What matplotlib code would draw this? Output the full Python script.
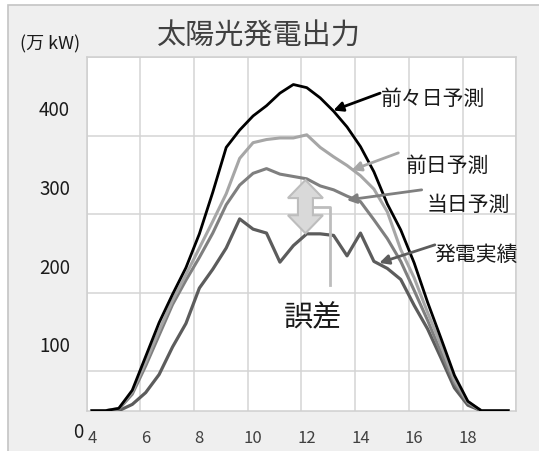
import numpy as np
import matplotlib.pyplot as plt
import matplotlib.transforms as mtransforms
from matplotlib.patches import Rectangle, Polygon

plt.rcParams['font.family'] = ['Noto Sans CJK JP', 'DejaVu Sans']

# 時刻 (30分刻み)
hours = [4.0, 4.5, 5.0, 5.5, 6.0, 6.5, 7.0, 7.5, 8.0, 8.5, 9.0, 9.5, 10.0, 10.5, 11.0, 11.5,
         12.0, 12.5, 13.0, 13.5, 14.0, 14.5, 15.0, 15.5, 16.0, 16.5, 17.0, 17.5, 18.0, 18.5, 19.0, 19.5]
# 万kW
zenzenjitsu = [0, 0, 3, 26, 69, 112, 148, 182, 225, 278, 335, 357, 375, 388, 404, 415,
               411, 398, 381, 361, 336, 304, 263, 230, 188, 138, 92, 45, 12, 0, 0, 0]
zenjitsu = [0, 0, 3, 24, 62, 102, 140, 173, 207, 241, 276, 321, 341, 345, 347, 347,
            351, 335, 323, 312, 299, 282, 253, 205, 169, 125, 83, 39, 11, 0, 0, 0]
toujitsu = [0, 0, 2, 21, 57, 96, 135, 166, 195, 226, 262, 287, 302, 308, 301, 298,
            295, 286, 281, 273, 266, 243, 219, 190, 153, 115, 74, 35, 10, 0, 0, 0]
jisseki = [0, 0, 0, 8, 23, 46, 81, 111, 156, 180, 207, 244, 231, 226, 189, 210,
           225, 225, 223, 197, 226, 190, 181, 167, 134, 104, 67, 29, 7, 0, 0, 0]

xticks = [4, 6, 8, 10, 12, 14, 16, 18]
yticks = [0, 100, 200, 300, 400]

fig = plt.figure(figsize=(5.39, 4.51), dpi=100)
fig.patch.set_facecolor('white')
# 外枠
fig.patches.append(Rectangle((8/539, -0.05), 1.5, 1 - 5/451 + 0.05, transform=fig.transFigure,
                             facecolor='#efefef', edgecolor='#c4c4c4', lw=1.2, zorder=-10))

ax = fig.add_axes([86.6/539, 40.3/451, 429.6/539, 353.7/451])
ax.set_facecolor('white')
ax.set_xlim(3.8, 19.8)
ax.set_ylim(0, 450)

ax.set_xticks(np.arange(3.8, 19.9, 2), minor=True)
ax.set_yticks(np.arange(0, 451, 50), minor=True)
ax.grid(which='minor', color='#d4d4d4', lw=1.1)
ax.grid(which='major', visible=False)
ax.set_axisbelow(True)
for s in ax.spines.values():
    s.set_color('#cfcfcf')
    s.set_linewidth(1.1)

ax.set_xticks(xticks)
ax.set_xticklabels([str(t) for t in xticks])
ax.set_yticks(yticks)
ax.set_yticklabels([str(t) for t in yticks])
ax.tick_params(which='both', length=0)
ax.tick_params(axis='x', labelsize=12, pad=14, labelcolor='#404040')
ax.tick_params(axis='y', labelsize=13.5, pad=12, labelcolor='#1a1a1a')

# 目盛ラベルをずらす
down = mtransforms.ScaledTranslation(0, -12/100, fig.dpi_scale_trans)
for lab in ax.get_yticklabels():
    lab.set_transform(lab.get_transform() + down)
ax.get_yticklabels()[0].set_transform(ax.get_yticklabels()[0].get_transform()
                                      + mtransforms.ScaledTranslation(13/100, -7/100, fig.dpi_scale_trans))

ax.plot(hours, jisseki, color='#5c5c5c', lw=2.3, zorder=3)
ax.plot(hours, toujitsu, color='#7f7f7f', lw=2.2, zorder=4)
ax.plot(hours, zenjitsu, color='#a6a6a6', lw=2.2, zorder=5)
ax.plot(hours, zenzenjitsu, color='#000000', lw=2.0, zorder=6)

def label(txt, xy, xytext, pos, col):
    ax.annotate('', xy=xy, xytext=xytext,
                arrowprops=dict(arrowstyle='-|>', color=col, lw=2, mutation_scale=14,
                                shrinkA=0, shrinkB=0), zorder=7)
    ax.text(pos[0], pos[1], txt, fontsize=15, color='#1a1a1a',
            ha='left', va='center', zorder=8)

label('前々日予測', (12.99, 382), (14.73, 404), (14.75, 397), '#000000')
label('前日予測', (13.67, 306), (15.41, 328), (15.69, 311), '#a6a6a6')
label('当日予測', (13.49, 268), (16.28, 281), (16.47, 262), '#7f7f7f')
label('発電実績', (14.70, 188), (16.77, 211), (16.74, 198), '#5c5c5c')

# 誤差の矢印
xc, top, bot = 11.95, 293.5, 225.7
hw, sw, hh = 0.652, 0.279, 23
pts = [(xc, top), (xc + hw, top - hh), (xc + sw, top - hh), (xc + sw, bot + hh),
       (xc + hw, bot + hh), (xc, bot), (xc - hw, bot + hh), (xc - sw, bot + hh),
       (xc - sw, top - hh), (xc - hw, top - hh)]
ax.add_patch(Polygon(pts, closed=True, facecolor='#d9d9d9', edgecolor='#bdbdbd', lw=1.5, zorder=8))
ax.plot([12.23, 12.88, 12.88], [259.5, 259.5, 160], color='#bdbdbd', lw=2, zorder=8)
ax.text(12.23, 117, '誤差', fontsize=21, color='#1a1a1a', ha='center', va='center', zorder=8)

fig.text(259/539, 1 - 37/451, '太陽光発電出力', fontsize=21, color='#404040', ha='center', va='center')
fig.text(20/539, 1 - 44/451, '(万 kW)', fontsize=13, color='#1a1a1a', ha='left', va='center')

plt.savefig('out.png', dpi=100)
